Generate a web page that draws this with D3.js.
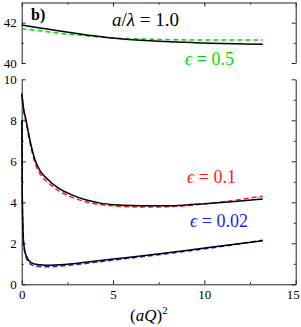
<!DOCTYPE html>
<html>
<head>
<meta charset="utf-8">
<script src="https://cdn.jsdelivr.net/npm/d3@7.9.0/dist/d3.min.js"></script>
<style>
  html, body { margin: 0; padding: 0; background: #fff; }
  svg { display: block; font-family: "Liberation Serif", "DejaVu Serif", serif; }
</style>
</head>
<body>
<svg id="chart" width="301" height="327"></svg>
<script>
// top panel, eps = 0.5
const topQ = [0, 1, 2, 3.2, 4.65, 7, 10, 13.2];
const topExact = [41.88, 41.74, 41.6, 41.44, 41.27, 41.1, 40.99, 40.93];
const topEps05 = [41.69, 41.6, 41.48, 41.37, 41.26, 41.18, 41.14, 41.14];

// bottom panel, eps = 0.1
const midQ = [0, 0.1, 0.24, 0.45, 0.73, 1.0, 1.46, 2.0, 2.74, 3.5, 4.3, 5.1, 6, 7, 7.9, 9, 10, 11.5, 13.2];
const midExact = [9.3, 8.6, 8.0, 7.04, 6.06, 5.55, 5.09, 4.7, 4.36, 4.12, 3.96, 3.88, 3.84, 3.83, 3.83, 3.87, 3.93, 4.03, 4.16];
const midEps01 = [9.3, 8.5, 7.9, 6.9, 5.92, 5.4, 4.95, 4.58, 4.25, 4.03, 3.89, 3.82, 3.78, 3.77, 3.78, 3.83, 3.92, 4.08, 4.3];

// bottom panel, eps = 0.02
const lowQ = [0.01, 0.03, 0.06, 0.1, 0.18, 0.27, 0.45, 0.7, 1.0, 1.3, 1.8, 2.5, 3.5, 5, 7, 9, 11, 13.2];
const lowExact = [8.0, 4.6, 3.0, 2.1, 1.6, 1.35, 1.1, 0.99, 0.95, 0.93, 0.94, 0.98, 1.08, 1.23, 1.43, 1.65, 1.88, 2.13];
const lowEps002 = [8.0, 4.5, 2.9, 2.0, 1.5, 1.25, 1.0, 0.9, 0.87, 0.86, 0.87, 0.92, 1.02, 1.18, 1.39, 1.61, 1.85, 2.15];

// ticks
const xMajor = [0, 5, 10, 15];
const xMinor = [2.5, 7.5, 12.5];
const topMajor = [40, 42];
const topMinor = [41];
const botMajor = [0, 2, 4, 6, 8, 10];
const botMinor = [1, 3, 5, 7, 9];

const svg = d3.select("#chart");

const x = d3.scaleLinear().domain([0, 15]).range([21.7, 295.7]);
const yTop = d3.scaleLinear().domain([40, 43]).range([63, 2.5]);
const yBot = d3.scaleLinear().domain([0, 10]).range([284.3, 79.3]);

const GREEN = "#00dd00", RED = "#ff1a1a", BLUE = "#1a1aff";

// draws an axis with inward ticks, styled like the plot
function drawAxis(axis, tx, ty, ticks, minor, size, labels) {
    let g = svg.append("g").attr("transform", `translate(${tx},${ty})`);
    g.call(axis.tickValues(ticks).tickSize(-size).tickSizeOuter(0).tickPadding(5)
        .tickFormat(labels ? d3.format("d") : ""));
    g.attr("font-family", null).attr("font-size", null);
    g.selectAll("path.domain").attr("stroke", "#222").attr("stroke-width", 1);
    g.selectAll(".tick line").attr("stroke", "#222");
    g.selectAll(".tick text").attr("font-size", 13).attr("fill", "#000");
    // minor ticks
    let m = svg.append("g").attr("transform", `translate(${tx},${ty})`);
    m.call(axis.tickValues(minor).tickSize(-size / 2).tickFormat(""));
    m.selectAll("path.domain").remove();
    m.selectAll(".tick line").attr("stroke", "#222");
    return g;
}

// top panel: left, right, top
drawAxis(d3.axisLeft(yTop), 21.7, 0, topMajor, topMinor, 4, true);
drawAxis(d3.axisRight(yTop), 295.7, 0, topMajor, topMinor, 4, false);
drawAxis(d3.axisTop(x), 0, 2.5, xMajor, xMinor, 4, false);

// bottom panel: left, right, bottom
drawAxis(d3.axisLeft(yBot), 21.7, 0, botMajor, botMinor, 4, true);
drawAxis(d3.axisRight(yBot), 295.7, 0, botMajor, botMinor, 4, false);
let bx = drawAxis(d3.axisBottom(x), 0, 284.3, xMajor, xMinor, 4, true);
// keep the last label inside the window
bx.selectAll(".tick text").filter(d => d === 15).attr("dx", -3);

// curves
function drawLine(qs, vals, y, color, dashed) {
    let line = d3.line()
        .x((d, i) => x(qs[i]))
        .y(d => y(d))
        .curve(d3.curveMonotoneX);
    svg.append("path")
        .attr("d", line(vals))
        .attr("fill", "none")
        .attr("stroke", color)
        .attr("stroke-width", 1.5)
        .attr("stroke-dasharray", dashed ? "5,3" : null);
}

drawLine(topQ, topEps05, yTop, GREEN, true);
drawLine(topQ, topExact, yTop, "#000", false);
drawLine(midQ, midEps01, yBot, RED, true);
drawLine(midQ, midExact, yBot, "#000", false);
drawLine(lowQ, lowEps002, yBot, BLUE, true);
drawLine(lowQ, lowExact, yBot, "#000", false);

// labels
svg.append("text").attr("x", 31).attr("y", 20).attr("font-size", 16)
    .attr("font-weight", "bold").text("b)");

let al = svg.append("text").attr("x", 112).attr("y", 26).attr("font-size", 19);
al.append("tspan").attr("font-style", "italic").text("a");
al.append("tspan").text("/");
al.append("tspan").attr("font-style", "italic").text("λ");
al.append("tspan").text(" = 1.0");

function epsLabel(xp, yp, txt, color) {
    let t = svg.append("text").attr("x", xp).attr("y", yp).attr("font-size", 18).attr("fill", color);
    t.append("tspan").attr("font-style", "italic").text("ϵ");
    t.append("tspan").text(" = " + txt);
}
epsLabel(185, 64.5, "0.5", GREEN);
epsLabel(187, 183, "0.1", RED);
epsLabel(190, 226.5, "0.02", BLUE);

let xt = svg.append("text").attr("x", 130).attr("y", 321).attr("font-size", 17);
xt.append("tspan").text("(");
xt.append("tspan").attr("font-style", "italic").text("aQ");
xt.append("tspan").text(")");
xt.append("tspan").attr("font-size", 11).attr("dy", -7).text("2");
</script>
</body>
</html>
